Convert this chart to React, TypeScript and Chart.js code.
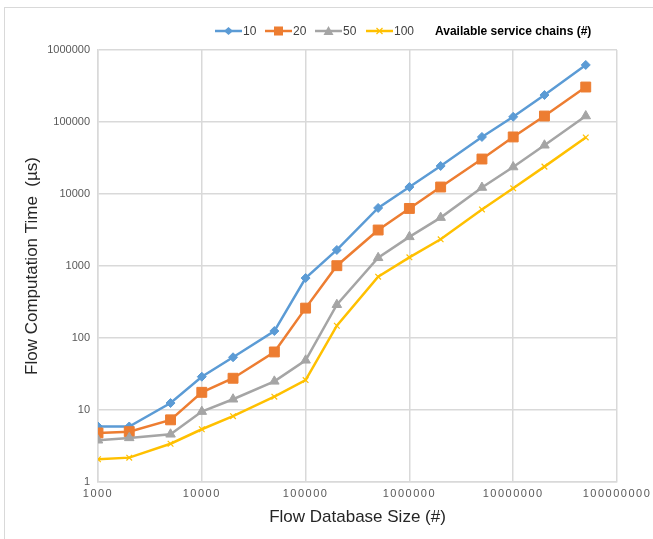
import React, { useEffect, useRef } from "react";
import { Chart, registerables } from "chart.js";

Chart.register(...registerables);

const xValues = [1000, 2000, 5000, 10000, 20000, 50000, 100000, 200000, 500000, 1000000, 2000000, 5000000, 10000000, 20000000, 50000000];
const series10 = [5.9, 5.9, 12.5, 29, 54, 125, 680, 1670, 6400, 12500, 24500, 62000, 118000, 237000, 620000];
const series20 = [4.8, 5.0, 7.3, 17.6, 27.6, 64, 260, 1010, 3160, 6300, 12500, 30600, 62000, 121000, 306000];
const series50 = [3.8, 4.1, 4.6, 9.5, 14.1, 25, 49, 290, 1300, 2540, 4700, 12300, 23700, 47500, 121000];
const series100 = [2.07, 2.18, 3.4, 5.4, 8.2, 15.3, 26, 148, 710, 1320, 2350, 6100, 12000, 24000, 61000];

const seriesLabels = ["10", "20", "50", "100"];
const legendTitle = "Available service chains (#)";
const xTicks = [1000, 10000, 100000, 1000000, 10000000, 100000000];
const yTicks = [1, 10, 100, 1000, 10000, 100000, 1000000];
const xTitle = "Flow Database Size (#)";
const yTitle = "Flow Computation Time  (µs)";

const COLORS = ["#5B9BD5", "#ED7D31", "#A5A5A5", "#FFC000"];
const FONT = "'Liberation Sans', Arial, sans-serif";
const GRID = "#d9d9d9";

const letterSpacingPlugin = {
  id: "xLetterSpacing",
  beforeDraw(chart: any) {
    const sc: any = chart.scales.x;
    if (!sc || sc.__patched) return;
    const orig = sc.drawLabels.bind(sc);
    sc.drawLabels = (area: any) => {
      const ctx: any = chart.ctx;
      ctx.save();
      ctx.letterSpacing = "1.5px";
      orig(area);
      ctx.restore();
    };
    sc.__patched = true;
  },
};

function Marker({ i }: { i: number }) {
  const c = COLORS[i];
  if (i === 0) return <polygon points="13.5,27 18,31 13.5,35 9,31" transform="translate(0,-16)" fill={c} />;
  if (i === 1) return <rect x={9} y={10.5} width={9} height={9} fill={c} />;
  if (i === 2) return <polygon points="13.5,10 18.5,19 8.5,19" fill={c} />;
  return (
    <g stroke={c} strokeWidth={1.2}>
      <line x1={10.5} y1={12} x2={16.5} y2={18} />
      <line x1={16.5} y1={12} x2={10.5} y2={18} />
    </g>
  );
}

function LegendItem({ i, left }: { i: number; left: number }) {
  return (
    <div style={{ position: "absolute", left, top: 16, height: 30, display: "flex", alignItems: "center" }}>
      <svg width={27} height={30} style={{ display: "block" }}>
        <line x1={0} y1={15} x2={27} y2={15} stroke={COLORS[i]} strokeWidth={2.5} />
        <Marker i={i} />
      </svg>
      <span style={{ fontFamily: FONT, fontSize: 12, color: "#404040", marginLeft: 1 }}>{seriesLabels[i]}</span>
    </div>
  );
}

export default function App() {
  const ref = useRef<HTMLCanvasElement>(null);

  useEffect(() => {
    if (!ref.current) return;
    const all = [series10, series20, series50, series100];
    const styles = [
      { pointStyle: "rectRot", radius: 4.5, borderW: 1 },
      { pointStyle: "rect", radius: 7, borderW: 1 },
      { pointStyle: "triangle", radius: 5.5, borderW: 1 },
      { pointStyle: "crossRot", radius: 4, borderW: 1.2 },
    ];
    const chart = new Chart(ref.current, {
      type: "line",
      data: {
        datasets: all.map((s, i) => ({
          label: seriesLabels[i],
          data: xValues.map((x, j) => ({ x, y: s[j] })),
          borderColor: COLORS[i],
          backgroundColor: COLORS[i],
          borderWidth: 2.5,
          pointStyle: styles[i].pointStyle as any,
          pointRadius: styles[i].radius,
          pointBorderWidth: styles[i].borderW,
          pointBorderColor: COLORS[i],
          pointBackgroundColor: COLORS[i],
          tension: 0,
          order: 4 - i,
        })),
      },
      options: {
        responsive: false,
        animation: false,
        layout: { padding: { top: 50, right: 36, left: 18, bottom: 7 } },
        plugins: { legend: { display: false }, tooltip: { enabled: false } },
        scales: {
          x: {
            type: "logarithmic",
            min: 1000,
            max: 100000000,
            afterBuildTicks: (s: any) => {
              s.ticks = xTicks.map((v) => ({ value: v }));
            },
            afterFit: (s: any) => {
              s.height = 50;
            },
            ticks: {
              autoSkip: false,
              maxRotation: 0,
              padding: 5,
              color: "#595959",
              font: { family: FONT, size: 11 },
              callback: (v: any) => String(v),
            },
            grid: { color: GRID, lineWidth: 1.5, drawTicks: false },
            border: { color: GRID, width: 1.5 },
            title: {
              display: true,
              text: xTitle,
              color: "#262626",
              font: { family: FONT, size: 17 },
              padding: { top: 4, bottom: 4 },
            },
          },
          y: {
            type: "logarithmic",
            min: 1,
            max: 1000000,
            afterBuildTicks: (s: any) => {
              s.ticks = yTicks.map((v) => ({ value: v }));
            },
            afterFit: (s: any) => {
              s.width = 80;
            },
            ticks: {
              autoSkip: false,
              padding: 8,
              color: "#595959",
              font: { family: FONT, size: 11 },
              callback: (v: any) => String(v),
            },
            grid: { color: GRID, lineWidth: 1.5, drawTicks: false },
            border: { color: GRID, width: 1.5 },
            title: {
              display: true,
              text: yTitle,
              color: "#262626",
              font: { family: FONT, size: 17 },
              padding: { top: 4, bottom: 4 },
            },
          },
        },
      },
      plugins: [letterSpacingPlugin],
    });
    return () => chart.destroy();
  }, []);

  return (
    <div style={{ position: "absolute", left: 0, top: 0, width: 653, height: 539, background: "#fff", overflow: "hidden" }}>
      <div style={{ position: "absolute", left: 4, top: 7, width: 660, height: 540, borderTop: `1px solid ${GRID}`, borderLeft: `1px solid ${GRID}` }} />
      <canvas ref={ref} width={653} height={539} style={{ position: "absolute", left: 0, top: 0 }} />
      <LegendItem i={0} left={215} />
      <LegendItem i={1} left={265} />
      <LegendItem i={2} left={315} />
      <LegendItem i={3} left={366} />
      <div style={{ position: "absolute", left: 435, top: 22, fontFamily: FONT, fontSize: 12, fontWeight: "bold", color: "#000", lineHeight: "18px" }}>{legendTitle}</div>
    </div>
  );
}
